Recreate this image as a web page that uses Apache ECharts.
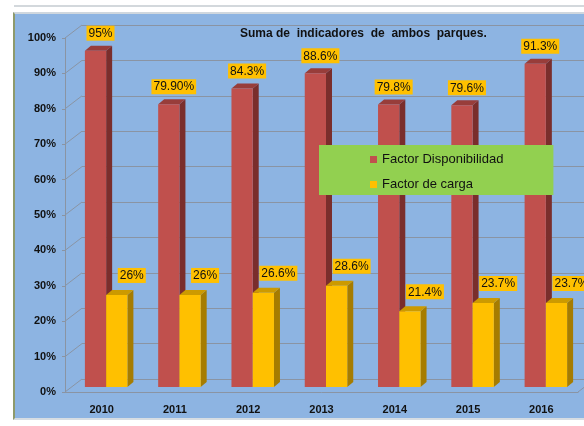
<!DOCTYPE html>
<html>
<head>
<meta charset="utf-8">
<title>Suma de indicadores de ambos parques</title>
<script src="https://cdn.jsdelivr.net/npm/echarts@6/dist/echarts.min.js"></script>
<style>
  body { margin: 0; background: #fff; }
  #strip { position: absolute; left: 14px; top: 5px; width: 570px; height: 2px; background: #d3d8dc; }
  #frame {
    position: absolute; left: 13px; top: 12px; width: 571px; height: 404px;
    background: #8DB4E2;
    border-left: 2px solid #8e9a6c; border-top: 2px solid #cfd7de; border-bottom: 2px solid #d6dde3;
  }
  #chart { position: absolute; left: 0; top: 0; width: 584px; height: 426px; }
</style>
</head>
<body>
<div id="strip"></div>
<div id="frame"></div>
<div id="chart"></div>
<script>
  // datos
  const years = ['2010', '2011', '2012', '2013', '2014', '2015', '2016']
  const disponibilidad = [95, 79.9, 84.3, 88.6, 79.8, 79.6, 91.3]
  const disponibilidadLabels = ['95%', '79.90%', '84.3%', '88.6%', '79.8%', '79.6%', '91.3%']
  const carga = [26, 26, 26.6, 28.6, 21.4, 23.7, 23.7]
  const cargaLabels = ['26%', '26%', '26.6%', '28.6%', '21.4%', '23.7%', '23.7%']
  const yTicks = [0, 10, 20, 30, 40, 50, 60, 70, 80, 90, 100]

  const font = 'Liberation Sans, Arial, sans-serif'
  const depthX = 17, depthY = 13 // fondo de la "caja" 3D

  // barra con cara frontal, lateral y superior
  function bar3d(which, colors, labels) {
    return function (params, api) {
      let cat = api.value(0)
      let v = api.value(1)
      let base = api.coord([cat, 0])
      let top = api.coord([cat, v])
      let w = api.size([1, 0])[0] * 0.29
      let sx = 6, sy = 5
      let x0 = base[0] + 4.5 + (which === 0 ? -w : 0)
      let x1 = x0 + w
      let yb = base[1] - 5
      let yt = top[1] - 5
      let lbl = which === 0
        ? { x: x0 + w / 2 + 5, y: yt - sy - 5 }
        : { x: x0 + w / 2 + 15, y: yt - sy - 7 }
      return {
        type: 'group',
        children: [
          { type: 'polygon', shape: { points: [[x1, yt], [x1 + sx, yt - sy], [x1 + sx, yb - sy], [x1, yb]] }, style: { fill: colors[1] } },
          { type: 'polygon', shape: { points: [[x0, yt], [x0 + sx, yt - sy], [x1 + sx, yt - sy], [x1, yt]] }, style: { fill: colors[2] } },
          { type: 'rect', shape: { x: x0, y: yt, width: w, height: yb - yt }, style: { fill: colors[0] } },
          {
            type: 'text', z2: 10,
            style: {
              text: labels[params.dataIndex], x: lbl.x, y: lbl.y,
              align: 'center', verticalAlign: 'bottom',
              fill: '#111', font: '12px ' + font,
              backgroundColor: '#FFC000', padding: [2, 2, 1, 2]
            }
          }
        ]
      }
    }
  }

  const chart = echarts.init(document.getElementById('chart'))
  chart.setOption({
    animation: false,
    title: {
      text: 'Suma de  indicadores  de  ambos  parques.',
      left: 240, top: 28, padding: 0,
      textStyle: { fontFamily: font, fontSize: 12, fontWeight: 'bold', color: '#111' }
    },
    legend: {
      data: ['Factor Disponibilidad', 'Factor de carga'],
      orient: 'vertical',
      left: 319, top: 145,
      backgroundColor: '#92D050',
      padding: [8, 50, 4, 51],
      itemGap: 12,
      itemWidth: 7, itemHeight: 7,
      icon: 'rect',
      textStyle: { fontFamily: font, fontSize: 13, color: '#111' }
    },
    grid: [
      // plano frontal (ejes)
      { left: 65, right: 6, top: 38, height: 354 },
      // pared del fondo (lineas de division)
      { left: 65 + depthX, right: 6 - depthX, top: 38 - depthY, height: 354 }
    ],
    xAxis: [{
      type: 'category', data: years, gridIndex: 0,
      axisLine: { lineStyle: { color: '#8a94a3' } },
      axisTick: { length: 4, lineStyle: { color: '#8a94a3' } },
      axisLabel: { margin: 12, fontFamily: font, fontSize: 11, fontWeight: 'bold', color: '#111' }
    }, {
      type: 'category', data: years, gridIndex: 1, show: false
    }],
    yAxis: [{
      type: 'value', gridIndex: 0, min: 0, max: 100, interval: 10,
      axisLine: { show: true, lineStyle: { color: '#8a94a3' } },
      axisTick: { show: true, length: 3, lineStyle: { color: '#8a94a3' } },
      splitLine: { show: false },
      axisLabel: { margin: 9, formatter: '{value}%', fontFamily: font, fontSize: 11, fontWeight: 'bold', color: '#111' }
    }, {
      type: 'value', gridIndex: 1, min: 0, max: 100, interval: 10,
      axisLine: { show: false }, axisTick: { show: false }, axisLabel: { show: false },
      splitLine: { lineStyle: { color: '#8a94a3' } }
    }],
    series: [{
      // lineas de la pared izquierda y del suelo
      type: 'custom', silent: true, xAxisIndex: 0, yAxisIndex: 0,
      data: yTicks.map(function (t) { return [0, t] }),
      renderItem: function (params, api) {
        let cs = params.coordSys
        let y = api.coord([0, api.value(1)])[1]
        let st = { stroke: '#8a94a3', lineWidth: 1 }
        let kids = [{ type: 'line', shape: { x1: cs.x, y1: y, x2: cs.x + depthX, y2: y - depthY }, style: st }]
        if (api.value(1) === 0) {
          let xr = cs.x + cs.width
          kids.push({ type: 'line', shape: { x1: xr, y1: y, x2: xr + depthX, y2: y - depthY }, style: st })
        }
        return { type: 'group', children: kids }
      }
    }, {
      name: 'Factor Disponibilidad', type: 'custom', xAxisIndex: 0, yAxisIndex: 0,
      itemStyle: { color: '#C0504D' },
      data: disponibilidad.map(function (v, i) { return [i, v] }),
      renderItem: bar3d(0, ['#C0504D', '#7A2E2C', '#983D3A'], disponibilidadLabels)
    }, {
      name: 'Factor de carga', type: 'custom', xAxisIndex: 0, yAxisIndex: 0,
      itemStyle: { color: '#FFC000' },
      data: carga.map(function (v, i) { return [i, v] }),
      renderItem: bar3d(1, ['#FFC000', '#A67C00', '#CC9A00'], cargaLabels)
    }]
  })
</script>
</body>
</html>
